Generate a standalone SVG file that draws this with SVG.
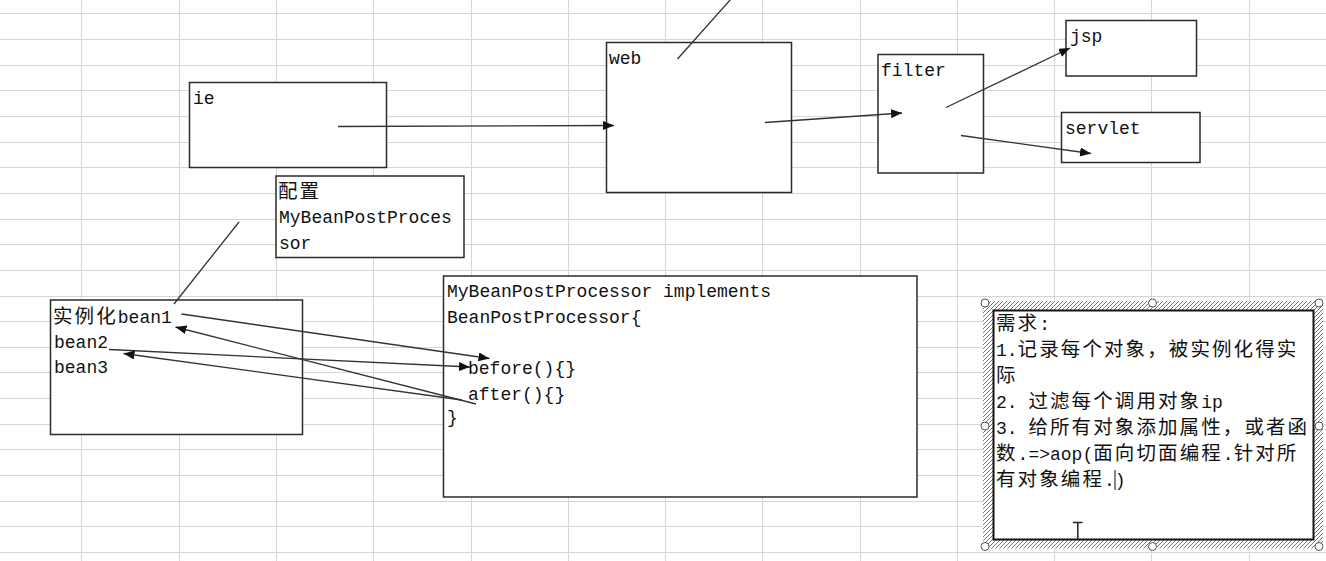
<svg xmlns="http://www.w3.org/2000/svg" width="1326" height="561" viewBox="0 0 1326 561">
<style>
.grid line{stroke:#d6d6d6;stroke-width:1}
.box{fill:#fff;stroke:#2b2b2b;stroke-width:1.5}
.t{font-family:"Liberation Mono","Noto Sans CJK SC",monospace;font-size:18px;fill:#111}
.c{font-size:19.5px;letter-spacing:2.1px}
.conn line{stroke:#333;stroke-width:1.3;fill:none}
.handle{fill:#fff;stroke:#555;stroke-width:1}
</style>
<defs>
<marker id="arr" markerUnits="userSpaceOnUse" markerWidth="12" markerHeight="10" refX="11" refY="4.5" orient="auto">
<path d="M0,0 L11,4.5 L0,9 z" fill="#111"/>
</marker>
<pattern id="hatch" patternUnits="userSpaceOnUse" width="4" height="4">
<rect width="4" height="4" fill="#fff"/>
<path d="M-1,1 L1,-1 M0,4 L4,0 M3,5 L5,3" stroke="#666" stroke-width="0.9"/>
</pattern>
</defs>
<rect width="1326" height="561" fill="#fff"/>
<g class="grid">
<line x1="0" y1="13.5" x2="1326" y2="13.5"/>
<line x1="0" y1="39.5" x2="1326" y2="39.5"/>
<line x1="0" y1="65.5" x2="1326" y2="65.5"/>
<line x1="0" y1="90.5" x2="1326" y2="90.5"/>
<line x1="0" y1="116.5" x2="1326" y2="116.5"/>
<line x1="0" y1="142.5" x2="1326" y2="142.5"/>
<line x1="0" y1="167.5" x2="1326" y2="167.5"/>
<line x1="0" y1="193.5" x2="1326" y2="193.5"/>
<line x1="0" y1="219.5" x2="1326" y2="219.5"/>
<line x1="0" y1="244.5" x2="1326" y2="244.5"/>
<line x1="0" y1="270.5" x2="1326" y2="270.5"/>
<line x1="0" y1="296.5" x2="1326" y2="296.5"/>
<line x1="0" y1="321.5" x2="1326" y2="321.5"/>
<line x1="0" y1="347.5" x2="1326" y2="347.5"/>
<line x1="0" y1="372.5" x2="1326" y2="372.5"/>
<line x1="0" y1="398.5" x2="1326" y2="398.5"/>
<line x1="0" y1="424.5" x2="1326" y2="424.5"/>
<line x1="0" y1="449.5" x2="1326" y2="449.5"/>
<line x1="0" y1="475.5" x2="1326" y2="475.5"/>
<line x1="0" y1="501.5" x2="1326" y2="501.5"/>
<line x1="0" y1="526.5" x2="1326" y2="526.5"/>
<line x1="0" y1="552.5" x2="1326" y2="552.5"/>
<line x1="81.5" y1="0" x2="81.5" y2="561"/>
<line x1="179.5" y1="0" x2="179.5" y2="561"/>
<line x1="276.5" y1="0" x2="276.5" y2="561"/>
<line x1="373.5" y1="0" x2="373.5" y2="561"/>
<line x1="471.5" y1="0" x2="471.5" y2="561"/>
<line x1="568.5" y1="0" x2="568.5" y2="561"/>
<line x1="665.5" y1="0" x2="665.5" y2="561"/>
<line x1="762.5" y1="0" x2="762.5" y2="561"/>
<line x1="860.5" y1="0" x2="860.5" y2="561"/>
<line x1="957.5" y1="0" x2="957.5" y2="561"/>
<line x1="1054.5" y1="0" x2="1054.5" y2="561"/>
<line x1="1151.5" y1="0" x2="1151.5" y2="561"/>
<line x1="1249.5" y1="0" x2="1249.5" y2="561"/>
</g>

<g id="node-ie">
<rect class="box" x="189.5" y="82.5" width="197" height="85"/>
<text class="t" x="193" y="104">ie</text>
</g>
<g id="node-web">
<rect class="box" x="606.5" y="42.5" width="185" height="150"/>
<text class="t" x="609" y="64">web</text>
</g>
<g id="node-filter">
<rect class="box" x="878" y="54.5" width="105.5" height="118.5"/>
<text class="t" x="881" y="76">filter</text>
</g>
<g id="node-jsp">
<rect class="box" x="1066" y="20.5" width="130.5" height="55.5"/>
<text class="t" x="1070" y="42">jsp</text>
</g>
<g id="node-servlet">
<rect class="box" x="1061.5" y="112.5" width="138.5" height="50"/>
<text class="t" x="1065" y="134">servlet</text>
</g>
<g id="node-config">
<rect class="box" x="276" y="176" width="188" height="81.5"/>
<text class="t" x="278" y="198"><tspan class="c">配置</tspan></text>
<text class="t" x="279" y="223">MyBeanPostProces</text>
<text class="t" x="279" y="249">sor</text>
</g>
<g id="node-beans">
<rect class="box" x="50.5" y="300" width="252" height="134.5"/>
<text class="t" x="53" y="323"><tspan class="c">实例化</tspan>bean1</text>
<text class="t" x="54" y="348">bean2</text>
<text class="t" x="54" y="373">bean3</text>
</g>
<g id="node-processor">
<rect class="box" x="443.5" y="276" width="473.5" height="221"/>
<text class="t" x="447" y="297">MyBeanPostProcessor implements</text>
<text class="t" x="447" y="323">BeanPostProcessor{</text>
<text class="t" x="468" y="374">before(){}</text>
<text class="t" x="468" y="400">after(){}</text>
<text class="t" x="447" y="423">}</text>
</g>
<g id="node-requirements">
<path d="M983,301 H1323 V548.5 H983 Z M993.5,310.5 V539.5 H1313.5 V310.5 Z" fill="url(#hatch)" fill-rule="evenodd"/>
<rect x="993.5" y="310.5" width="320" height="229" fill="#fff" stroke="#111" stroke-width="2"/>
<circle class="handle" cx="985" cy="303" r="4"/>
<circle class="handle" cx="1152.5" cy="303" r="4"/>
<circle class="handle" cx="1319" cy="303" r="4"/>
<circle class="handle" cx="985" cy="426" r="4"/>
<circle class="handle" cx="1319" cy="426" r="4"/>
<circle class="handle" cx="985" cy="546.5" r="4"/>
<circle class="handle" cx="1152.5" cy="546.5" r="4"/>
<circle class="handle" cx="1319" cy="546.5" r="4"/>
<text class="t" x="996" y="330"><tspan class="c">需求</tspan>:</text>
<text class="t" x="996" y="356">1.<tspan class="c">记录每个对象，被实例化得实</tspan></text>
<text class="t" x="996" y="382"><tspan class="c">际</tspan></text>
<text class="t" x="996" y="408">2. <tspan class="c">过滤每个调用对象</tspan>ip</text>
<text class="t" x="996" y="434">3. <tspan class="c">给所有对象添加属性，或者函</tspan></text>
<text class="t" x="996" y="460"><tspan class="c">数</tspan>.=&gt;aop(<tspan class="c">面向切面编程</tspan>.<tspan class="c">针对所</tspan></text>
<text class="t" x="996" y="486"><tspan class="c">有对象编程</tspan>.)</text>
<line x1="1115" y1="470" x2="1115" y2="490" stroke="#111" stroke-width="1"/>
<path d="M1073,522.5 H1082.5 M1077.8,522.5 V540" stroke="#222" stroke-width="1.5" fill="none"/>
</g>

<g class="conn" id="connectors">
<line x1="338" y1="126.5" x2="614" y2="125.5" marker-end="url(#arr)"/>
<line x1="765" y1="122.5" x2="902" y2="113" marker-end="url(#arr)"/>
<line x1="946" y1="107.5" x2="1070" y2="48" marker-end="url(#arr)"/>
<line x1="961" y1="135.5" x2="1091" y2="153.5" marker-end="url(#arr)"/>
<line x1="677.5" y1="59" x2="731" y2="-1"/>
<line x1="239" y1="222" x2="174" y2="304"/>
<line x1="181.5" y1="314" x2="489.5" y2="358.5" marker-end="url(#arr)"/>
<line x1="109" y1="349.5" x2="470" y2="367" marker-end="url(#arr)"/>
<line x1="476" y1="404" x2="175.5" y2="327" marker-end="url(#arr)"/>
<line x1="462" y1="400" x2="123.5" y2="353.5" marker-end="url(#arr)"/>
</g>
</svg>
